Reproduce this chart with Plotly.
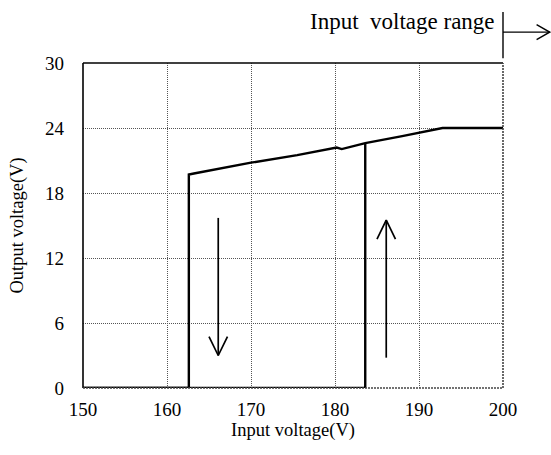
import plotly.graph_objects as go

# ---- data ----
upper_x = [200, 192.8, 188.0, 183.6, 180.8, 180.2, 175.5, 170.0, 163.2, 162.6]
upper_y = [24.0, 24.0, 23.25, 22.6, 22.05, 22.2, 21.5, 20.8, 19.8, 19.7]
drop_x = 162.6       # input voltage where output drops to 0 (decreasing)
rise_x = 183.6       # input voltage where output rises (increasing)
rise_top = 22.6
x_min, x_max = 150, 200
y_min, y_max = 0, 30
x_ticks = [150, 160, 170, 180, 190, 200]
y_ticks = [0, 6, 12, 18, 24, 30]
# direction arrows: (x, y_start, y_end)
down_arrow = (166.1, 15.7, 3.0)
up_arrow = (186.1, 2.8, 15.5)

FONT = "Liberation Serif"

fig = go.Figure()

# decreasing path: along upper curve then drop to zero
dx = upper_x + [drop_x, x_min]
dy = upper_y + [0, 0]
fig.add_trace(go.Scatter(x=dx, y=dy, mode="lines",
                         line=dict(color="black", width=2.4), showlegend=False))
# increasing path: along zero then jump up
fig.add_trace(go.Scatter(x=[x_min, rise_x, rise_x], y=[0, 0, rise_top], mode="lines",
                         line=dict(color="black", width=2.4), showlegend=False))

# arrows as line traces (head size in data units)
hw, hh = 1.1, 1.75
def arrow(x, y0, y1):
    s = 1 if y1 > y0 else -1
    xs = [x, x, None, x - hw, x, x + hw]
    ys = [y0, y1, None, y1 - s * hh, y1, y1 - s * hh]
    return xs, ys
for a in (down_arrow, up_arrow):
    xs, ys = arrow(*a)
    fig.add_trace(go.Scatter(x=xs, y=ys, mode="lines",
                             line=dict(color="black", width=1.7), showlegend=False))

shapes = [
    # frame: left and top solid, right and bottom dotted dark
    dict(type="line", xref="paper", yref="paper", x0=0, x1=0, y0=0, y1=1,
         line=dict(color="black", width=1.6)),
    dict(type="line", xref="paper", yref="paper", x0=0, x1=1, y0=1, y1=1,
         line=dict(color="black", width=1.6)),
    dict(type="line", xref="paper", yref="paper", x0=1, x1=1, y0=0, y1=1,
         line=dict(color="#444", width=1.6, dash="2px,1px")),
    dict(type="line", xref="paper", yref="paper", x0=0, x1=1, y0=0, y1=0,
         line=dict(color="#444", width=1.6, dash="2px,1px")),
    # input voltage range marker
    dict(type="line", xref="paper", yref="paper", x0=1.0, x1=1.0, y0=1.015, y1=1.157,
         line=dict(color="black", width=1.4)),
    dict(type="line", xref="paper", yref="paper", x0=1.0, x1=1.111, y0=1.095, y1=1.095,
         line=dict(color="black", width=1.4)),
    dict(type="path", xref="paper", yref="paper",
         path="M 1.08,1.118 L 1.111,1.095 L 1.08,1.072",
         line=dict(color="black", width=1.4)),
]

fig.update_layout(
    width=551, height=455,
    margin=dict(l=83, r=48, t=63, b=67),
    paper_bgcolor="white", plot_bgcolor="white",
    font=dict(family=FONT, color="black", size=18),
    shapes=shapes,
    annotations=[dict(text="Input  voltage range", xref="paper", yref="paper",
                      x=0.985, y=1.127, xanchor="right", yanchor="middle",
                      showarrow=False, font=dict(family=FONT, size=23))],
    xaxis=dict(range=[x_min, x_max], tickvals=x_ticks, showline=False,
               showgrid=True, gridcolor="#555", griddash="1px,1px", gridwidth=1,
               zeroline=False, ticks="", ticklabelstandoff=8,
               tickfont=dict(family=FONT, size=19),
               title=dict(text="Input voltage(V)", font=dict(family=FONT, size=18.5), standoff=2)),
    yaxis=dict(range=[y_min, y_max], tickvals=y_ticks, showline=False,
               showgrid=True, gridcolor="#555", griddash="1px,1px", gridwidth=1,
               zeroline=False, ticks="", ticklabelstandoff=18,
               tickfont=dict(family=FONT, size=19),
               title=dict(text="Output voltage(V)", font=dict(family=FONT, size=18.5), standoff=16)),
)

fig.write_html("out.html")
